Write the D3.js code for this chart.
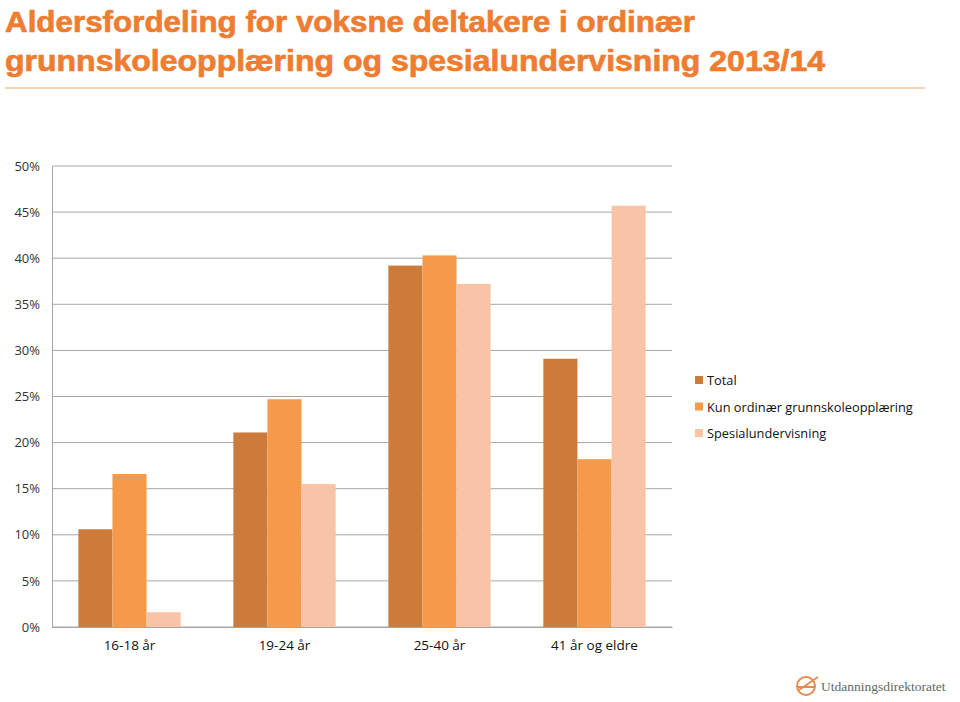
<!DOCTYPE html>
<html>
<head>
<meta charset="utf-8">
<script src="https://cdn.jsdelivr.net/npm/d3@7"></script>
<style>
  body { margin: 0; background: #fff; }
  svg { display: block; }
</style>
</head>
<body>
<script>
// data
const categories = ["16-18 år", "19-24 år", "25-40 år", "41 år og eldre"];
const seriesNames = ["Total", "Kun ordinær grunnskoleopplæring", "Spesialundervisning"];
const total = [10.6, 21.1, 39.2, 29.1];
const kunOrdinaer = [16.6, 24.7, 40.3, 18.2];
const spesial = [1.6, 15.5, 37.2, 45.7];
const yTicks = [0, 5, 10, 15, 20, 25, 30, 35, 40, 45, 50];

const colors = ["#CD7B3A", "#F59A4B", "#F9C3A8"];
const seriesVals = [total, kunOrdinaer, spesial];

const svg = d3.select("body").append("svg")
  .attr("width", 960)
  .attr("height", 702);

// title
const title = svg.append("g").attr("fill", "#EE7D31")
  .attr("stroke", "#EE7D31").attr("stroke-width", 0.7)
  .style("font-family", "'Liberation Sans', Arial, sans-serif")
  .style("font-weight", "bold")
  .style("font-size", "30px");
title.append("text").attr("x", 5).attr("y", 32)
  .attr("textLength", 690).attr("lengthAdjust", "spacingAndGlyphs")
  .text("Aldersfordeling for voksne deltakere i ordinær");
title.append("text").attr("x", 5).attr("y", 71)
  .attr("textLength", 820).attr("lengthAdjust", "spacingAndGlyphs")
  .text("grunnskoleopplæring og spesialundervisning 2013/14");

svg.append("line")
  .attr("x1", 5).attr("x2", 925).attr("y1", 88).attr("y2", 88)
  .attr("stroke", "#F0A877").attr("stroke-width", 1.2);

// plot
const plotLeft = 52, plotRight = 672, plotTop = 166, plotBottom = 627;

const x = d3.scaleBand()
  .domain(categories)
  .range([plotLeft, plotRight])
  .paddingInner(0.34)
  .paddingOuter(0.17);

const xs = d3.scaleBand()
  .domain(seriesNames)
  .range([0, x.bandwidth()]);

const y = d3.scaleLinear().domain([0, 50]).range([plotBottom, plotTop]);

// gridlines
svg.append("g")
  .selectAll("line")
  .data(yTicks)
  .join("line")
  .attr("x1", plotLeft).attr("x2", plotRight)
  .attr("y1", d => y(d)).attr("y2", d => y(d))
  .attr("stroke", "#A6A6A6").attr("stroke-width", 1);

// bars
const groups = svg.append("g")
  .selectAll("g")
  .data(categories)
  .join("g")
  .attr("transform", d => `translate(${x(d)},0)`);

groups.selectAll("rect")
  .data((d, i) => seriesNames.map((s, j) => ({ s, j, v: seriesVals[j][i] })))
  .join("rect")
  .attr("x", d => xs(d.s))
  .attr("width", xs.bandwidth())
  .attr("y", d => y(d.v))
  .attr("height", d => y(0) - y(d.v))
  .attr("fill", d => colors[d.j]);

// y axis
const yAxis = svg.append("g")
  .attr("transform", `translate(${plotLeft},0)`)
  .call(d3.axisLeft(y).tickValues(yTicks).tickSize(0).tickPadding(12).tickFormat(d => d + "%"));
yAxis.select(".domain").attr("stroke", "#A6A6A6");
yAxis.selectAll("text")
  .style("font-family", "'Open Sans', sans-serif")
  .style("font-size", "13px")
  .attr("fill", "#333");

// x axis
const xAxis = svg.append("g")
  .attr("transform", `translate(0,${plotBottom})`)
  .call(d3.axisBottom(x).tickSize(0).tickPadding(13));
xAxis.select(".domain").attr("stroke", "#A6A6A6");
xAxis.selectAll("text")
  .style("font-family", "'Open Sans', sans-serif")
  .style("font-size", "13.5px")
  .attr("fill", "#111");

// legend
const legend = svg.append("g")
  .selectAll("g")
  .data(seriesNames)
  .join("g")
  .attr("transform", (d, i) => `translate(695,${380 + i * 26.5})`);
legend.append("rect")
  .attr("x", 0).attr("y", -4).attr("width", 8).attr("height", 8)
  .attr("fill", (d, i) => colors[i]);
legend.append("text")
  .attr("x", 12).attr("y", 5)
  .style("font-family", "'Open Sans', sans-serif")
  .style("font-size", "12.8px")
  .attr("fill", "#111")
  .text(d => d);

// logo
const logo = svg.append("g").attr("transform", "translate(806,686)");
logo.append("circle").attr("r", 9).attr("fill", "none")
  .attr("stroke", "#E98A4D").attr("stroke-width", 2);
logo.append("path").attr("d", "M-9,1 L9,1 M-7,4 L12,-9")
  .attr("fill", "none").attr("stroke", "#E98A4D").attr("stroke-width", 2);
logo.append("text")
  .attr("x", 15).attr("y", 5)
  .style("font-family", "'Liberation Serif', serif")
  .style("font-size", "13.5px")
  .attr("fill", "#666")
  .text("Utdanningsdirektoratet");
</script>
</body>
</html>
